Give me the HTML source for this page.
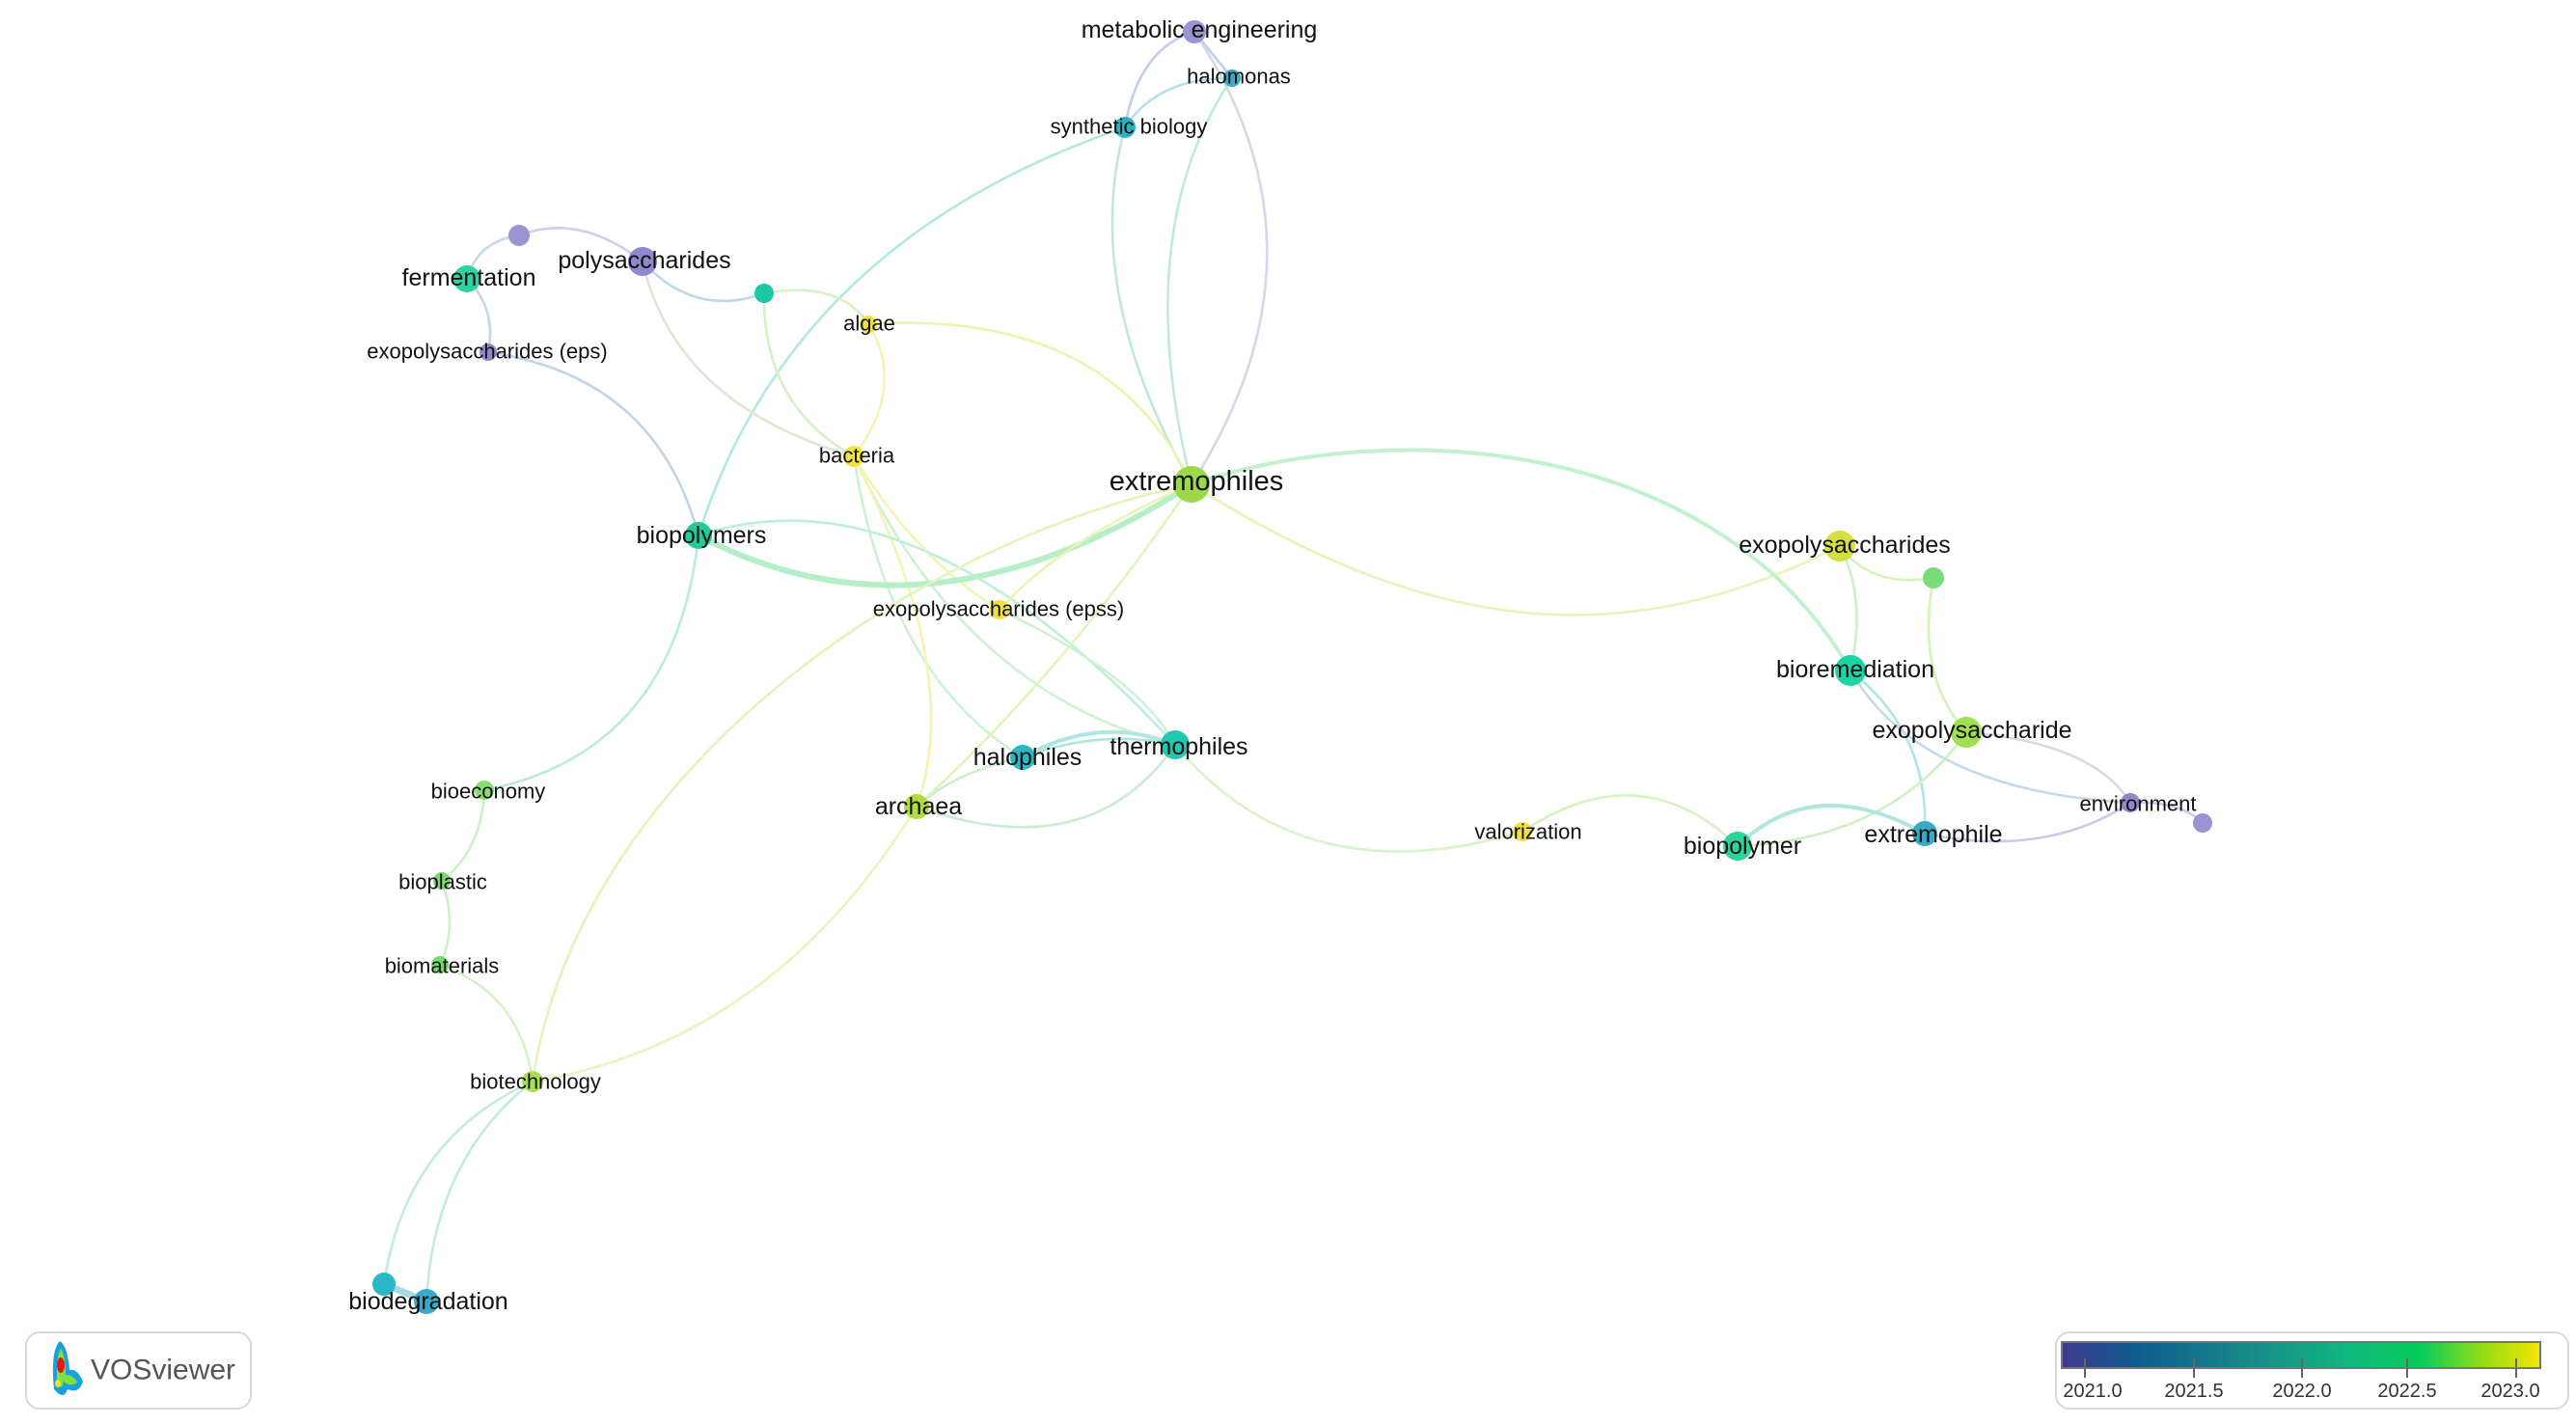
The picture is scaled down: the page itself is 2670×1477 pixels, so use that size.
<!DOCTYPE html>
<html><head><meta charset="utf-8"><style>
html,body{margin:0;padding:0;background:#fff;}
svg{display:block;font-family:"Liberation Sans",sans-serif;}
</style></head><body>
<svg width="2670" height="1477" viewBox="0 0 2670 1477" xmlns="http://www.w3.org/2000/svg">
<defs>
<linearGradient id="lg" x1="0" x2="1" y1="0" y2="0">
<stop offset="0" stop-color="#3f3a8e"/><stop offset="0.15" stop-color="#0f5a8e"/>
<stop offset="0.4" stop-color="#178c8a"/><stop offset="0.6" stop-color="#10b880"/>
<stop offset="0.75" stop-color="#06cc5a"/><stop offset="0.87" stop-color="#8cdc18"/>
<stop offset="1" stop-color="#f4e600"/></linearGradient>
</defs>
<g fill="none" stroke-width="2.6" stroke-linecap="round" opacity="0.7">
<path d="M1238,33 Q1180,50 1166,132" stroke="#a8b8e4"/>
<path d="M1238,33 Q1260,60 1277,81" stroke="#a8b8e4"/>
<path d="M1277,81 Q1200,80 1166,132" stroke="#8fd4e0"/>
<path d="M1238,33 Q1390,260 1235,502" stroke="#c4c8dc"/>
<path d="M1166,132 Q1120,300 1235,502" stroke="#a8dcd0"/>
<path d="M1277,81 Q1170,240 1235,502" stroke="#a8e0cc"/>
<path d="M1166,132 Q820,250 724,555" stroke="#90e0d4"/>
<path d="M724,555 Q700,780 502,819" stroke="#9ce6c8"/>
<path d="M506,365 Q680,390 724,555" stroke="#a8c4e0"/>
<path d="M484,289 Q495,250 538,244" stroke="#a8cce4"/>
<path d="M538,244 Q600,220 666,271" stroke="#c0bce4"/>
<path d="M484,289 Q515,320 506,365" stroke="#a8c8e0"/>
<path d="M666,271 Q720,330 792,304" stroke="#a0c8e0"/>
<path d="M666,271 Q700,420 885,473" stroke="#d8d8c0"/>
<path d="M792,304 Q870,290 900,336" stroke="#c8ecb0"/>
<path d="M792,304 Q790,420 885,473" stroke="#c4ecb0"/>
<path d="M900,336 Q940,400 885,473" stroke="#f4f090"/>
<path d="M900,336 Q1150,320 1235,502" stroke="#e4f090"/>
<path d="M885,473 Q920,700 1060,785" stroke="#b8ecc0"/>
<path d="M885,473 Q1000,720 1218,772" stroke="#b8ecc0"/>
<path d="M885,473 Q1000,700 950,836" stroke="#f0f090"/>
<path d="M885,473 Q950,580 1036,632" stroke="#f4f090"/>
<path d="M724,555 Q960,680 1235,502" stroke="#98e8b0" stroke-width="6"/>
<path d="M724,555 Q950,480 1218,772" stroke="#a0e8c8"/>
<path d="M1235,502 C950,560 600,800 552,1121" stroke="#d8f0a0"/>
<path d="M1235,502 Q1100,700 950,836" stroke="#d4f0a0"/>
<path d="M1235,502 Q1100,560 1036,632" stroke="#e0f098"/>
<path d="M1235,502 C1500,670 1700,670 1907,566" stroke="#e0f09c"/>
<path d="M1235,502 C1450,430 1780,455 1918,695" stroke="#a8ecb8" stroke-width="4"/>
<path d="M1907,566 Q1935,620 1918,695" stroke="#b8ecb0"/>
<path d="M1907,566 Q1940,610 2004,599" stroke="#c8ee9c"/>
<path d="M2004,599 Q1985,700 2038,759" stroke="#c0ee9c"/>
<path d="M1918,695 Q2000,760 1995,864" stroke="#90d8dc"/>
<path d="M1918,695 Q1990,820 2208,832" stroke="#b0c8e0"/>
<path d="M2038,759 Q1960,870 1801,877" stroke="#b8eca8"/>
<path d="M2038,759 Q2170,770 2208,832" stroke="#c8c8dc"/>
<path d="M1995,864 Q2120,890 2208,832" stroke="#b0b8e0"/>
<path d="M2208,832 Q2260,830 2283,853" stroke="#b8b4e0"/>
<path d="M1801,877 Q1880,800 1995,864" stroke="#90dcd0" stroke-width="4"/>
<path d="M1801,877 Q1700,780 1578,862" stroke="#c8eca8"/>
<path d="M1578,862 Q1350,930 1218,772" stroke="#cceeb0"/>
<path d="M1060,785 Q1140,740 1218,772" stroke="#90dcd4" stroke-width="4"/>
<path d="M1060,785 Q1140,755 1218,772" stroke="#90dcd4"/>
<path d="M1060,785 Q990,800 950,836" stroke="#b8e8b8"/>
<path d="M950,836 Q1130,900 1218,772" stroke="#b0e8c0"/>
<path d="M950,836 Q800,1080 552,1121" stroke="#e4f0a0"/>
<path d="M502,819 Q500,880 458,913" stroke="#b8ecb0"/>
<path d="M458,913 Q475,960 456,1000" stroke="#b8ecb0"/>
<path d="M456,1000 Q540,1030 552,1121" stroke="#c4eeb0"/>
<path d="M552,1121 Q420,1180 398,1331" stroke="#a8e4d0"/>
<path d="M552,1121 Q450,1200 442,1349" stroke="#a8e4d0"/>
<path d="M398,1331 L442,1349" stroke="#80ccd8" stroke-width="7"/>
<path d="M1036,632 Q1180,700 1218,772" stroke="#b8ecc0"/>
</g>
<g>
<circle cx="1238" cy="33" r="12" fill="#9a94d2"/>
<circle cx="1277" cy="81" r="9" fill="#3aaac8"/>
<circle cx="1166" cy="132" r="11" fill="#2ab2c2"/>
<circle cx="538" cy="244" r="11" fill="#9a94d2"/>
<circle cx="666" cy="271" r="15" fill="#8e88cc"/>
<circle cx="484" cy="289" r="14" fill="#2fd3a0"/>
<circle cx="792" cy="304" r="10" fill="#19c9a8"/>
<circle cx="900" cy="336" r="9" fill="#f0e33a"/>
<circle cx="506" cy="365" r="9" fill="#8e88cc"/>
<circle cx="885" cy="473" r="11" fill="#f2e43a"/>
<circle cx="1235" cy="502" r="19" fill="#9cd84a"/>
<circle cx="724" cy="555" r="14" fill="#22cc9a"/>
<circle cx="1036" cy="632" r="10" fill="#f0e040"/>
<circle cx="1907" cy="566" r="16" fill="#d4e040"/>
<circle cx="2004" cy="599" r="11" fill="#78dc78"/>
<circle cx="1918" cy="695" r="16" fill="#1fd4a4"/>
<circle cx="2038" cy="759" r="16" fill="#9fe050"/>
<circle cx="2208" cy="832" r="10" fill="#8e88cc"/>
<circle cx="2283" cy="853" r="10" fill="#9a94d2"/>
<circle cx="1995" cy="864" r="13" fill="#3aa8c8"/>
<circle cx="1801" cy="877" r="15" fill="#2cd49c"/>
<circle cx="1578" cy="862" r="10" fill="#f0e040"/>
<circle cx="1060" cy="785" r="13" fill="#2ab8c4"/>
<circle cx="1218" cy="772" r="15" fill="#22c8b0"/>
<circle cx="950" cy="836" r="13" fill="#b0dc40"/>
<circle cx="502" cy="819" r="10" fill="#8adc70"/>
<circle cx="458" cy="913" r="9" fill="#80d870"/>
<circle cx="456" cy="1000" r="9" fill="#78d870"/>
<circle cx="552" cy="1121" r="11" fill="#a8e050"/>
<circle cx="398" cy="1331" r="12" fill="#2ab8c4"/>
<circle cx="442" cy="1349" r="13" fill="#3aa8c8"/>
</g>
<g fill="#111" text-anchor="middle" dominant-baseline="central">
<text x="1243" y="31" font-size="25">metabolic engineering</text>
<text x="1284" y="79" font-size="22">halomonas</text>
<text x="1170" y="131" font-size="22">synthetic biology</text>
<text x="668" y="270" font-size="25">polysaccharides</text>
<text x="486" y="288" font-size="25">fermentation</text>
<text x="901" y="335" font-size="22">algae</text>
<text x="505" y="364" font-size="22">exopolysaccharides (eps)</text>
<text x="888" y="472" font-size="22">bacteria</text>
<text x="1240" y="499" font-size="29">extremophiles</text>
<text x="727" y="555" font-size="25">biopolymers</text>
<text x="1035" y="631" font-size="22">exopolysaccharides (epss)</text>
<text x="1912" y="565" font-size="25">exopolysaccharides</text>
<text x="1923" y="694" font-size="25">bioremediation</text>
<text x="2044" y="757" font-size="25">exopolysaccharide</text>
<text x="2216" y="833" font-size="22">environment</text>
<text x="2004" y="865" font-size="25">extremophile</text>
<text x="1806" y="877" font-size="25">biopolymer</text>
<text x="1584" y="862" font-size="22">valorization</text>
<text x="1065" y="785" font-size="25">halophiles</text>
<text x="1222" y="774" font-size="25">thermophiles</text>
<text x="952" y="836" font-size="25">archaea</text>
<text x="506" y="820" font-size="22">bioeconomy</text>
<text x="459" y="914" font-size="22">bioplastic</text>
<text x="458" y="1001" font-size="22">biomaterials</text>
<text x="555" y="1121" font-size="22">biotechnology</text>
<text x="444" y="1349" font-size="25">biodegradation</text>
</g>
<rect x="27" y="1381" width="233" height="79" rx="14" fill="#fff" stroke="#d8d8d8" stroke-width="2"/>
<g>
<path d="M56,1440 Q52,1400 62,1390 Q70,1395 72,1420 Q80,1418 86,1432 Q82,1445 70,1440 Q66,1452 56,1440 Z" fill="#1aa0e0"/>
<path d="M59,1435 Q58,1405 63,1398 Q68,1405 68,1425 Q76,1425 80,1433 Q72,1438 66,1432 Q64,1442 59,1435 Z" fill="#7ee040"/>
<ellipse cx="63" cy="1415" rx="4" ry="8" fill="#e01a10"/>
<ellipse cx="60" cy="1434" rx="3" ry="4" fill="#f0e020"/>
</g>
<text x="94" y="1420" font-size="30" fill="#555" dominant-baseline="central">VOSviewer</text>
<rect x="2131" y="1381" width="531" height="79" rx="14" fill="#fff" stroke="#d8d8d8" stroke-width="2"/>
<rect x="2137" y="1391" width="496" height="27" fill="url(#lg)" stroke="#777" stroke-width="2"/>
<g stroke="#666" stroke-width="2">
<line x1="2161" y1="1408" x2="2161" y2="1428"/><line x1="2274" y1="1408" x2="2274" y2="1428"/>
<line x1="2386" y1="1408" x2="2386" y2="1428"/><line x1="2495" y1="1408" x2="2495" y2="1428"/>
<line x1="2608" y1="1408" x2="2608" y2="1428"/></g>
<g font-size="20" fill="#333" text-anchor="middle" dominant-baseline="central">
<text x="2169" y="1442">2021.0</text><text x="2274" y="1442">2021.5</text>
<text x="2386" y="1442">2022.0</text><text x="2495" y="1442">2022.5</text>
<text x="2602" y="1442">2023.0</text></g>
</svg>
</body></html>
